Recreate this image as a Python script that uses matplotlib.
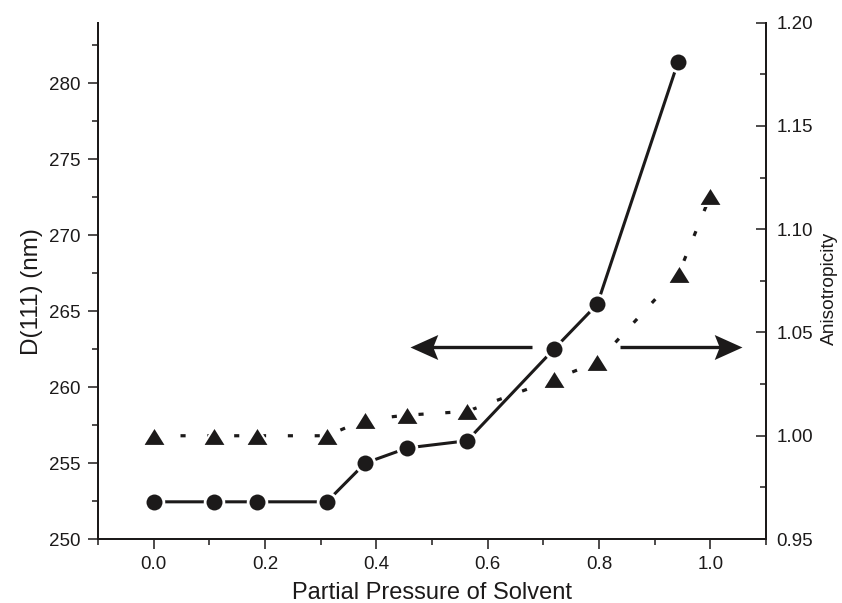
import matplotlib
matplotlib.use("Agg")
import matplotlib.pyplot as plt
from matplotlib.ticker import MultipleLocator, FormatStrFormatter

plt.rcParams['font.family'] = ['Liberation Sans', 'DejaVu Sans']

# Data
pressure_d = [0.0, 0.108, 0.186, 0.311, 0.380, 0.456, 0.563, 0.719, 0.797, 0.942]
d111 = [252.45, 252.45, 252.45, 252.45, 255.0, 256.0, 256.47, 262.5, 265.46, 281.4]

pressure_a = [0.0, 0.108, 0.186, 0.311, 0.380, 0.456, 0.563, 0.719, 0.797, 0.943, 1.0]
aniso = [1.000, 1.000, 1.000, 1.000, 1.0078, 1.010, 1.0118, 1.0273, 1.0357, 1.0783, 1.1162]

x_label = "Partial Pressure of Solvent"
y_left_label = "D(111) (nm)"
y_right_label = "Anisotropicity"

INK = '#1c1a1a'

fig = plt.figure(figsize=(8.42, 6.03), dpi=100)
ax = fig.add_axes([0.1164, 0.1061, 0.7933, 0.8563])
ax2 = ax.twinx()

tri = [(-1, -0.8), (1, -0.8), (0, 0.8), (-1, -0.8)]

ax.plot(pressure_d, d111, color=INK, lw=2.2, marker='o', ms=13.5,
        mfc=INK, mec='white', mew=2.0, zorder=3, solid_capstyle='butt')
ax2.plot(pressure_a, aniso, color=INK, lw=2.3, dashes=(1.6, 6.8),
         dash_capstyle='butt', marker=tri, ms=17, mfc=INK,
         mec='white', mew=1.5, zorder=3)

ax.set_xlim(-0.1, 1.1)
ax.set_ylim(250, 284)
ax2.set_ylim(0.95, 1.20)

ax.xaxis.set_major_locator(MultipleLocator(0.2))
ax.xaxis.set_minor_locator(MultipleLocator(0.1))
ax.xaxis.set_major_formatter(FormatStrFormatter('%.1f'))
ax.yaxis.set_major_locator(MultipleLocator(5))
ax.yaxis.set_minor_locator(MultipleLocator(2.5))
ax2.yaxis.set_major_locator(MultipleLocator(0.05))
ax2.yaxis.set_minor_locator(MultipleLocator(0.025))
ax2.yaxis.set_major_formatter(FormatStrFormatter('%.2f'))

for a in (ax, ax2):
    a.spines['top'].set_visible(False)
    for s in a.spines.values():
        s.set_linewidth(1.4)
        s.set_color(INK)

ax.tick_params(axis='both', which='major', direction='out', length=7, width=1.1,
               labelsize=13.5, pad=5.5, color=INK, labelcolor=INK)
ax.tick_params(axis='both', which='minor', direction='out', length=4, width=1.1,
               color=INK)
ax.tick_params(axis='y', which='both', right=False)
ax2.tick_params(axis='y', which='major', direction='in', length=7, width=1.1,
                labelsize=13.5, pad=7.5, color=INK, labelcolor=INK)
ax2.tick_params(axis='y', which='minor', direction='in', length=4, width=1.1,
                color=INK)

ax.set_xlabel(x_label, fontsize=17, color=INK)
ax.set_ylabel(y_left_label, fontsize=17.5, color=INK)
ax2.set_ylabel(y_right_label, fontsize=13.8, color=INK)
ax.xaxis.set_label_coords(0.5, -0.083)
ax.yaxis.set_label_coords(-0.083, 0.480)
ax2.yaxis.set_label_coords(1.082, 0.486)

# Annotation arrows (Origin-style swept heads)
head_r = [(0, 0), (-1, 0.45), (-0.82, 0), (-1, -0.45), (0, 0)]
head_l = [(-x, y) for x, y in head_r]
y_arrow = 262.65
ax.plot([0.679, 0.470], [y_arrow, y_arrow], color=INK, lw=2.4, solid_capstyle='butt', zorder=2)
ax.plot([0.460], [y_arrow], marker=head_l, ms=40, color=INK, mew=0, linestyle='none', zorder=2)
ax.plot([0.838, 1.047], [y_arrow, y_arrow], color=INK, lw=2.4, solid_capstyle='butt', zorder=2)
ax.plot([1.057], [y_arrow], marker=head_r, ms=40, color=INK, mew=0, linestyle='none', zorder=2,
        clip_on=False)

fig.savefig('out.png', dpi=100)
